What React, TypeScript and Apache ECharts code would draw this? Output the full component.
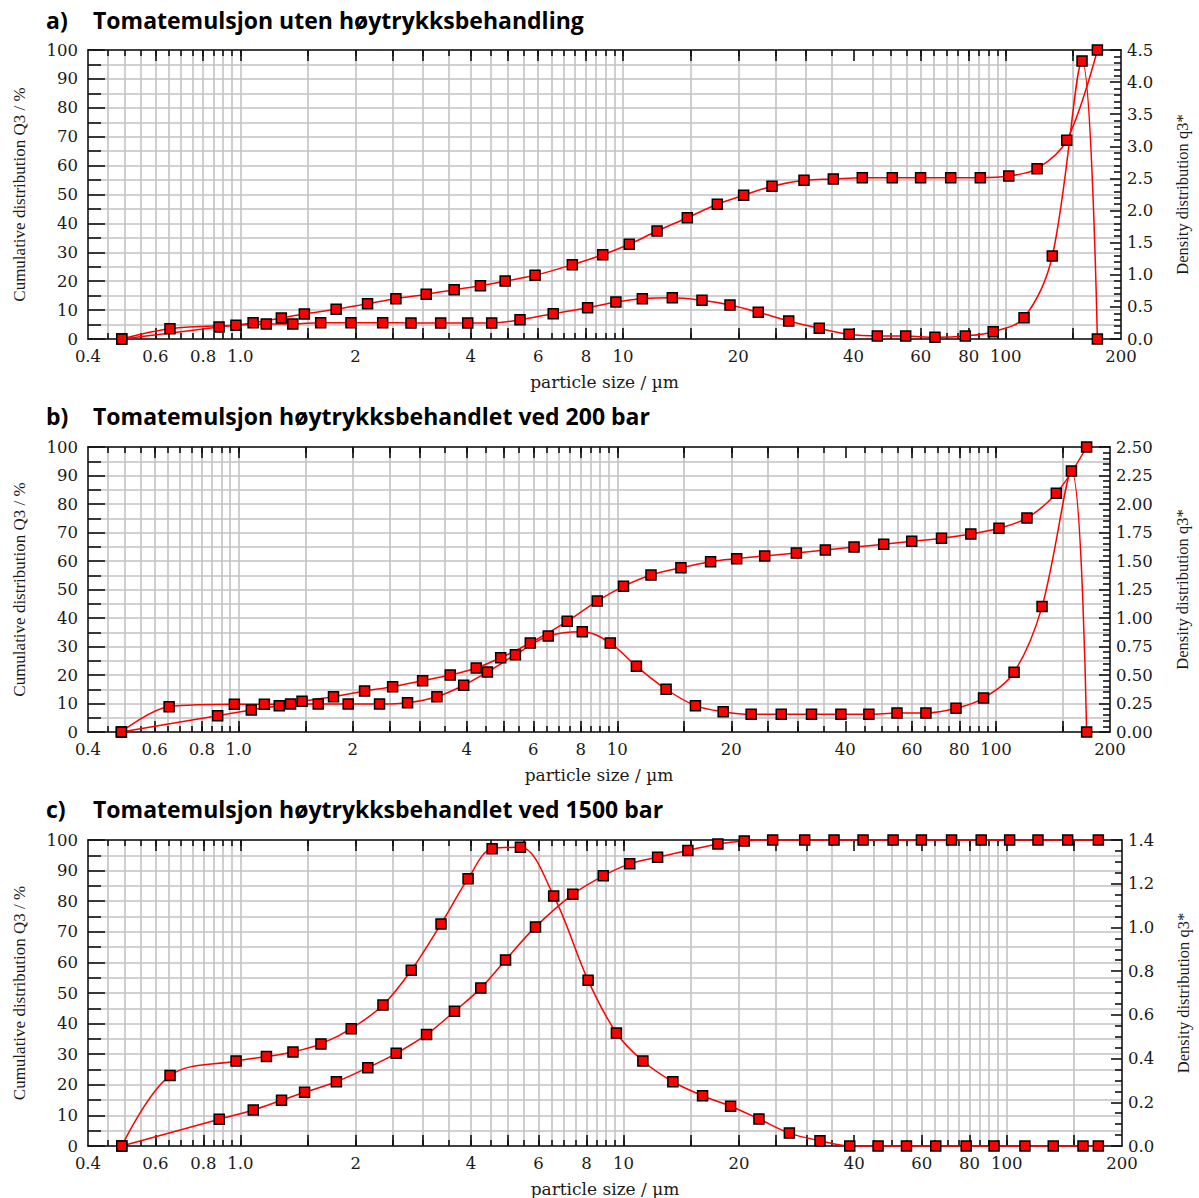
import React, { useEffect, useRef } from "react";
import * as echarts from "echarts";

// ---------- DATA ----------
// particle sizes (µm) of the cumulative points (class upper limits)
const sizesCum = [0.49, 0.88, 1.08, 1.28, 1.47, 1.78, 2.15, 2.55, 3.06, 3.62, 4.24, 4.92, 5.89, 7.37, 8.85, 10.38, 12.27, 14.72, 17.63, 20.66, 24.5, 29.7, 35.43, 42.18, 50.52, 59.9, 71.8, 85.8, 101.8, 120.7, 144.3, 173.5];
// particle sizes (µm) of the density points (class means)
const sizesDens = [0.49, 0.655, 0.974, 1.169, 1.371, 1.622, 1.946, 2.355, 2.792, 3.338, 3.928, 4.538, 5.38, 6.57, 8.08, 9.58, 11.23, 13.45, 16.08, 19.03, 22.56, 27.09, 32.56, 38.94, 46.16, 54.76, 65.3, 78.4, 92.7, 111.6, 132.3, 158.2, 173.5];

// a) Tomatemulsjon uten høytrykksbehandling
const cumA = [0, 4.15, 5.64, 7.27, 8.65, 10.28, 12.21, 13.94, 15.47, 17.06, 18.44, 20.07, 22.04, 25.71, 29.17, 32.77, 37.37, 41.97, 46.61, 49.72, 52.84, 54.91, 55.36, 55.81, 55.81, 55.81, 55.81, 55.81, 56.4, 58.93, 68.75, 100];
const densA = [0, 0.16, 0.213, 0.234, 0.234, 0.254, 0.254, 0.254, 0.249, 0.249, 0.249, 0.249, 0.3, 0.394, 0.487, 0.576, 0.628, 0.643, 0.603, 0.529, 0.416, 0.28, 0.167, 0.073, 0.047, 0.047, 0.026, 0.047, 0.114, 0.332, 1.292, 4.33, 0];

// b) 200 bar
const cumB = [0, 5.72, 7.72, 9.23, 10.77, 12.39, 14.39, 15.89, 18.0, 20.0, 22.46, 26.07, 31.23, 38.84, 45.96, 51.12, 55.09, 57.65, 59.75, 60.81, 61.75, 62.8, 63.86, 64.9, 65.86, 66.9, 67.96, 69.47, 71.47, 75.09, 83.75, 100];
const densB = [0, 0.222, 0.243, 0.243, 0.246, 0.246, 0.246, 0.246, 0.257, 0.31, 0.41, 0.526, 0.678, 0.842, 0.88, 0.78, 0.576, 0.375, 0.231, 0.178, 0.155, 0.155, 0.155, 0.155, 0.155, 0.167, 0.167, 0.208, 0.298, 0.524, 1.1, 2.29, 0];

// c) 1500 bar
const cumC = [0, 8.73, 11.76, 14.93, 17.55, 21.0, 25.6, 30.3, 36.4, 44.0, 51.6, 60.8, 71.6, 82.25, 88.3, 92.2, 94.4, 96.6, 98.7, 99.7, 100, 100, 100, 100, 100, 100, 100, 100, 100, 100, 100, 100];
const densC = [0, 0.322, 0.389, 0.409, 0.43, 0.467, 0.537, 0.645, 0.804, 1.016, 1.223, 1.36, 1.367, 1.144, 0.758, 0.517, 0.389, 0.294, 0.23, 0.182, 0.124, 0.059, 0.024, 0, 0, 0, 0, 0, 0, 0, 0, 0, 0];

const letters = ["a)", "b)", "c)"];
const titles = [
  "Tomatemulsjon uten høytrykksbehandling",
  "Tomatemulsjon høytrykksbehandlet ved 200 bar",
  "Tomatemulsjon høytrykksbehandlet ved 1500 bar",
];
const densMax = [4.5, 2.5, 1.4];
const densInterval = [0.5, 0.25, 0.2];
const densMinorSplit = [5, 5, 4];
const densDecimals = [1, 2, 1];

// x axis (log) ticks and labels
const xLabelValues = [0.4, 0.6, 0.8, 1.0, 2, 4, 6, 8, 10, 20, 40, 60, 80, 100, 200];
const xLabelTexts = ["0.4", "0.6", "0.8", "1.0", "2", "4", "6", "8", "10", "20", "40", "60", "80", "100", "200"];
const xGridValues = [0.45, 0.5, 0.55, 0.6, 0.65, 0.7, 0.75, 0.8, 0.85, 0.9, 0.95, 1.0, 1.5, 2, 2.5, 3, 3.5, 4, 4.5, 5, 5.5, 6, 6.5, 7, 7.5, 8, 8.5, 9, 9.5, 10, 15, 20, 25, 30, 35, 45, 50, 55, 60, 65, 70, 75, 80, 85, 90, 95, 100, 150];
const xMajorTicks = [0.6, 0.8, 1.0, 1.5, 2, 2.5, 3, 4, 5, 6, 8, 10, 15, 20, 25, 30, 40, 60, 80, 100, 150];

const cumSeries = [cumA, cumB, cumC];
const densSeries = [densA, densB, densC];

// ---------- LAYOUT ----------
const grids = [
  { left: 88, top: 50, width: 1033, height: 289 },
  { left: 88, top: 447, width: 1022, height: 285 },
  { left: 88, top: 840, width: 1034, height: 306 },
];
const titleY = [24, 420, 813];
const rightNameGap = [53, 64, 53];

const lg = (v: number) => Math.log10(v);
const LOG_MIN = lg(0.4);
const LOG_MAX = lg(200);
const AXIS_COLOR = "#111";
const GRID_COLOR = "#c2c2c2";
const SERIF_H = "DejaVu Serif";
const SERIF_V = "Liberation Serif";
const LABEL_SIZE = 16.5;

function fmtX(v: number) {
  for (let i = 0; i < xLabelValues.length; i++) {
    if (Math.abs(lg(xLabelValues[i]) - v) < 1e-6) return xLabelTexts[i];
  }
  return "";
}

function buildOption() {
  const xAxis: any[] = [];
  const yAxis: any[] = [];
  const series: any[] = [];
  const graphic: any[] = [];
  const lineStyle = { color: AXIS_COLOR, width: 1.6 };

  grids.forEach((g, gi) => {
    const base = { gridIndex: gi, type: "value", min: LOG_MIN, max: LOG_MAX, axisPointer: { show: false } };
    xAxis.push({ gridIndex: gi, type: "log", logBase: 10, min: 0.4, max: 200, show: false });
    xAxis.push({
      ...base,
      position: "bottom",
      axisLine: { show: true, onZero: false, lineStyle },
      axisTick: { show: true, inside: true, length: 11, customValues: xMajorTicks.map(lg), lineStyle },
      axisLabel: {
        show: true,
        customValues: xLabelValues.map(lg),
        formatter: fmtX,
        fontFamily: SERIF_H,
        fontSize: LABEL_SIZE,
        color: "#1a1a1a",
        margin: 9,
      },
      splitLine: { show: false },
      name: "particle size / µm",
      nameLocation: "middle",
      nameGap: 34,
      nameTextStyle: { fontFamily: SERIF_H, fontSize: 17, color: "#1a1a1a" },
    });
    xAxis.push({
      ...base,
      position: "bottom",
      axisLine: { show: false, onZero: false },
      axisTick: { show: true, inside: true, length: 6, customValues: xGridValues.map(lg), lineStyle },
      axisLabel: { show: false },
      splitLine: { show: true, lineStyle: { color: GRID_COLOR, width: 1.6 } },
    });
    xAxis.push({
      ...base,
      position: "top",
      axisLine: { show: true, onZero: false, lineStyle },
      axisTick: { show: true, inside: true, length: 11, customValues: xMajorTicks.map(lg), lineStyle },
      axisLabel: { show: false },
      splitLine: { show: false },
    });
    xAxis.push({
      ...base,
      position: "top",
      axisLine: { show: false, onZero: false },
      axisTick: { show: true, inside: true, length: 6, customValues: xGridValues.map(lg), lineStyle },
      axisLabel: { show: false },
      splitLine: { show: false },
    });

    yAxis.push({
      gridIndex: gi,
      type: "value",
      position: "left",
      min: 0,
      max: 100,
      interval: 10,
      axisLine: { show: true, onZero: false, lineStyle },
      axisTick: { show: true, inside: true, length: 17, lineStyle },
      minorTick: { show: true, splitNumber: 2, length: 13, lineStyle },
      splitLine: { show: true, lineStyle: { color: GRID_COLOR, width: 1.6 } },
      minorSplitLine: { show: true, lineStyle: { color: GRID_COLOR, width: 1.6 } },
      axisLabel: { fontFamily: SERIF_H, fontSize: LABEL_SIZE, color: "#1a1a1a", margin: 10 },
      name: "Cumulative distribution Q3 / %",
      nameLocation: "middle",
      nameGap: 60,
      nameTextStyle: { fontFamily: SERIF_V, fontSize: 17, color: "#1a1a1a" },
    });
    const dec = densDecimals[gi];
    yAxis.push({
      gridIndex: gi,
      type: "value",
      position: "right",
      min: 0,
      max: densMax[gi],
      interval: densInterval[gi],
      axisLine: { show: true, onZero: false, lineStyle },
      axisTick: { show: true, inside: true, length: 11, lineStyle },
      minorTick: { show: true, splitNumber: densMinorSplit[gi], length: 7, lineStyle },
      splitLine: { show: false },
      axisLabel: {
        fontFamily: SERIF_H,
        fontSize: LABEL_SIZE,
        color: "#1a1a1a",
        margin: 6,
        formatter: (v: number) => v.toFixed(dec),
      },
      name: "Density distribution q3*",
      nameLocation: "middle",
      nameGap: rightNameGap[gi],
      nameTextStyle: { fontFamily: SERIF_V, fontSize: 16.5, color: "#1a1a1a" },
    });

    const common = {
      type: "line",
      xAxisIndex: gi * 5,
      smooth: 0.35,
      symbol: "rect",
      symbolSize: 10,
      showAllSymbol: true,
      clip: false,
      lineStyle: { color: "#ff0000", width: 1.5 },
      itemStyle: { color: "#ff0000", borderColor: "#000", borderWidth: 1.5 },
      emphasis: { disabled: true },
      z: 5,
    };
    series.push({
      ...common,
      name: "Q3 " + letters[gi],
      yAxisIndex: gi * 2,
      data: sizesCum.map((s, j) => [s, cumSeries[gi][j]]),
    });
    series.push({
      ...common,
      name: "q3 " + letters[gi],
      yAxisIndex: gi * 2 + 1,
      data: sizesDens.map((s, j) => [s, densSeries[gi][j]]),
    });

    graphic.push({
      type: "text",
      left: 46,
      top: titleY[gi] - 16,
      style: { text: letters[gi], font: 'bold 23px "Open Sans"', fill: "#000" },
    });
    graphic.push({
      type: "text",
      left: 93,
      top: titleY[gi] - 16,
      style: { text: titles[gi], font: 'bold 23px "Open Sans"', fill: "#000" },
    });
  });

  return {
    animation: false,
    backgroundColor: "#fff",
    grid: grids.map((g) => ({ ...g, containLabel: false, outerBoundsMode: "none" })),
    xAxis,
    yAxis,
    series,
    graphic,
    tooltip: { show: false },
  };
}

export default function App() {
  const ref = useRef<HTMLDivElement>(null);
  useEffect(() => {
    if (!ref.current) return;
    const chart = echarts.init(ref.current, undefined, { renderer: "svg" });
    chart.setOption(buildOption() as any);
    return () => chart.dispose();
  }, []);
  return (
    <div
      ref={ref}
      style={{ position: "absolute", left: 0, top: 0, width: 1199, height: 1198, background: "#fff" }}
    />
  );
}
